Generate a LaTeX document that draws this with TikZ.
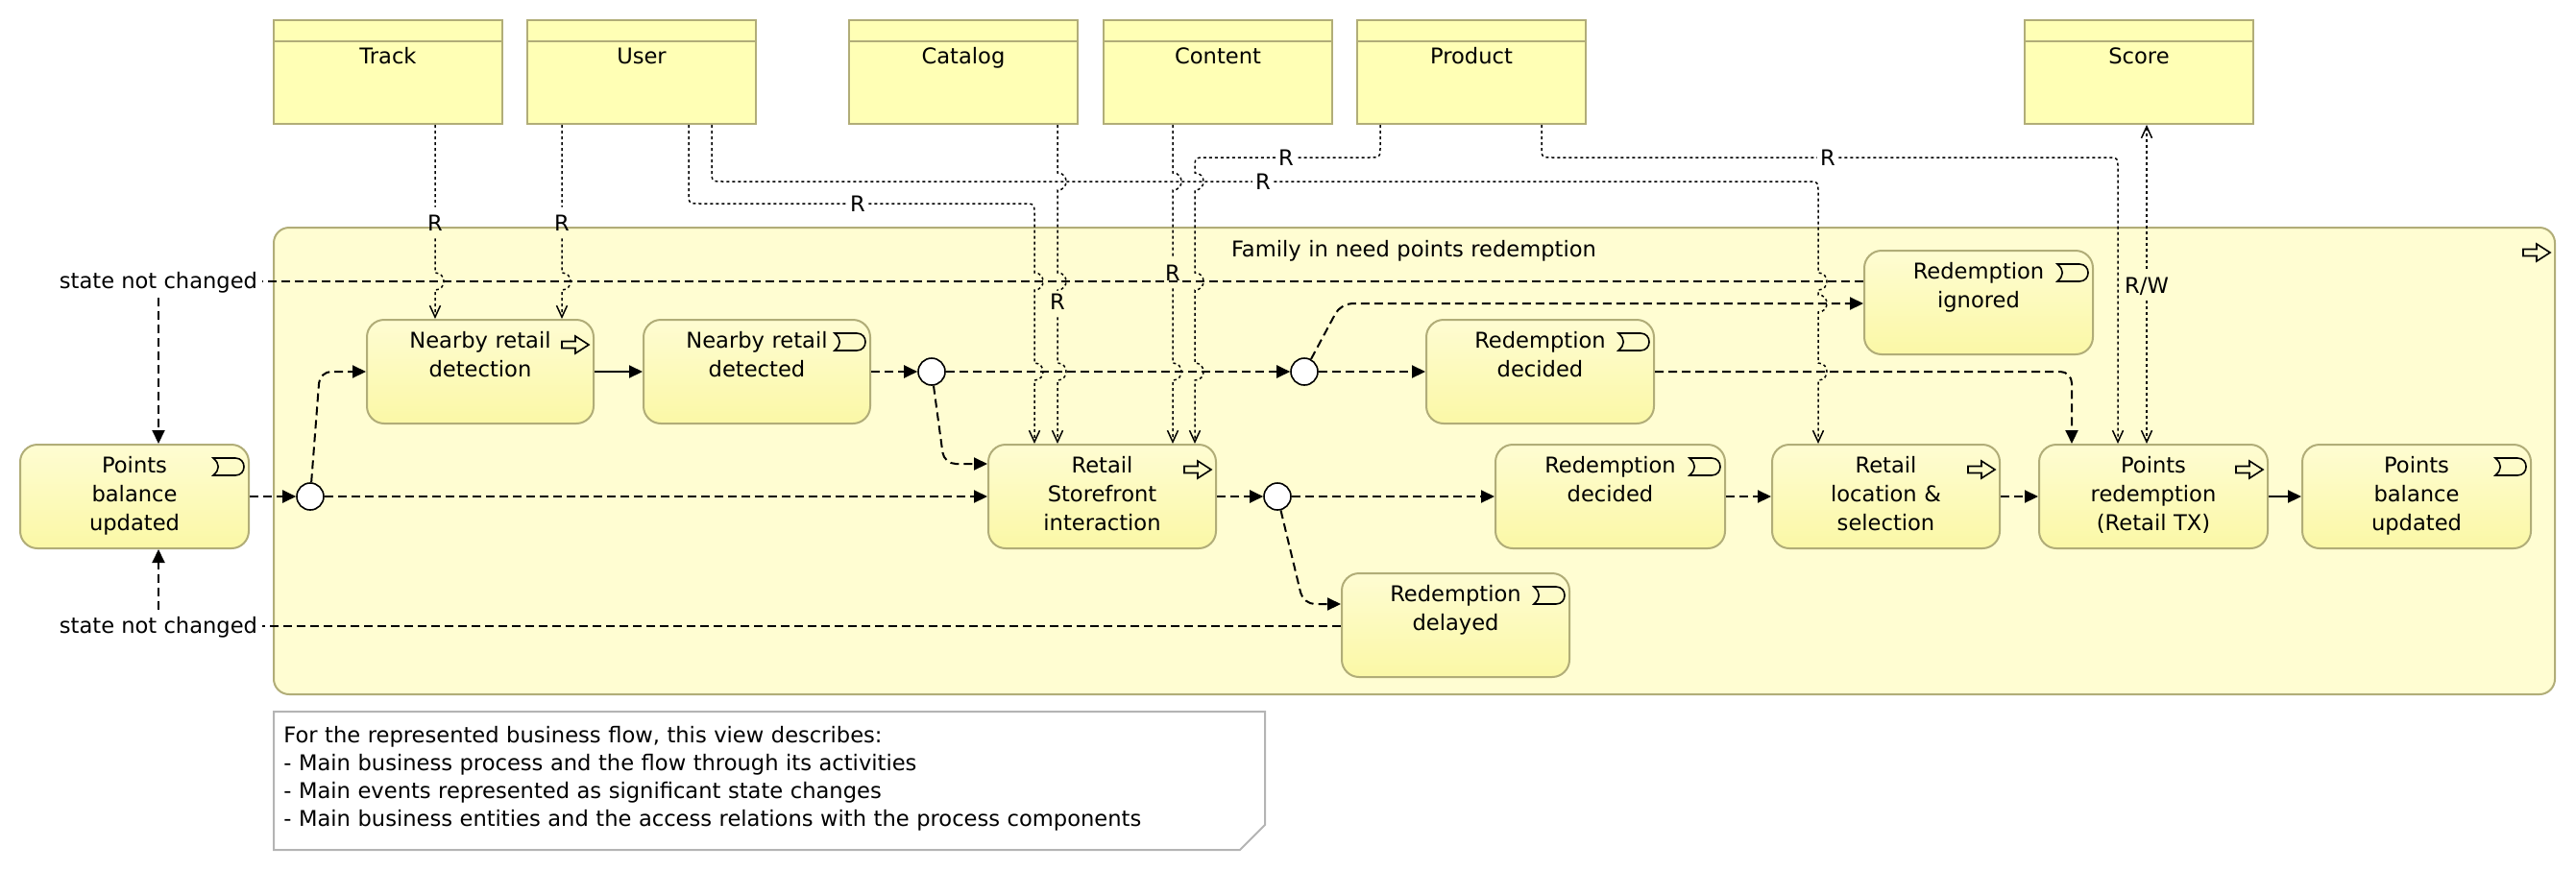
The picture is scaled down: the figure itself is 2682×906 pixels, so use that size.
\documentclass[tikz,border=0pt]{standalone}
\usepackage{fontspec}
\setmainfont{DejaVu Sans}
\usetikzlibrary{arrows.meta,calc,fit}
\definecolor{grpfill}{HTML}{FFFDD2}
\definecolor{grpline}{HTML}{B1AD78}
\definecolor{boxtop}{HTML}{FEFCD2}
\definecolor{boxbot}{HTML}{FBF8A6}
\definecolor{entfill}{HTML}{FFFFB5}
\definecolor{noteline}{HTML}{B4B4B4}

\newcommand\hopv[2]{-- (#1,#2-9) .. controls (#1+12,#2-9) and (#1+12,#2+9) .. (#1,#2+9)}
\newcommand\evicon[1]{\begin{scope}[shift={(#1.north east)}]
  \draw[icon] (-38,15) -- (-15,15) .. controls (-3,15) and (-3,33) .. (-15,33) -- (-38,33) .. controls (-31,27) and (-31,21) .. (-38,15) -- cycle;
  \end{scope}}
\newcommand\procicon[1]{\begin{scope}[shift={(#1.north east)}]
  \draw[icon] (-34,23.5) -- (-20,23.5) -- (-20,18) -- (-6,27) -- (-20,36) -- (-20,30.5) -- (-34,30.5) -- cycle;
  \end{scope}}
\newcommand\mkelem[7]{\node[#1, fit={(#3,#4) (#5,#6)}] (#2) {};
  \node[etext] (#2-t) at ($(#2.north)+(0,30)$) {#7};}
\newcommand\mkentity[4]{\node[ent, fit={(#2,21) (#3,129)}] (#1) {};
  \draw[grpline, line width=1pt] ($(#1.north west)+(0,23)$) -- ($(#1.north east)+(0,23)$);
  \node[etext] (#1-t) at ($(#1.north)+(0,46)$) {#4};}

\begin{document}
\begin{tikzpicture}[x=0.5pt, y=-0.5pt, font=\fontsize{11.3pt}{15pt}\selectfont,
  grp/.style={draw=grpline, fill=grpfill, line width=1pt, rounded corners=8pt, inner sep=0pt},
  evbox/.style={draw=grpline, top color=boxtop, bottom color=boxbot, line width=1pt, rounded corners=9pt, inner sep=0pt},
  prbox/.style={evbox},
  ent/.style={draw=grpline, fill=entfill, line width=1pt, inner sep=0pt},
  etext/.style={anchor=base, align=center, text width=112pt, inner sep=0pt},
  junc/.style={circle, draw, fill=white, line width=0.8pt, minimum size=14pt, inner sep=0pt},
  flow/.style={line width=1pt, dash pattern=on 4.5pt off 2.5pt, -{Triangle[length=7pt,width=6.5pt]}},
  trig/.style={line width=1pt, -{Triangle[length=7pt,width=6.5pt]}},
  acc/.style={line width=0.75pt, dash pattern=on 1.5pt off 1.5pt, -{Straight Barb[length=6pt,width=5.5pt]}},
  lbl/.style={inner xsep=1.5pt, inner ysep=1pt, text height=11pt, text depth=3pt},
  icon/.style={draw=black, line width=0.8pt, fill=none},
  note/.style={draw=noteline, fill=white, line width=1pt}]
\useasboundingbox (0,0) rectangle (2682,906);

% group
\node[grp, fit={(285,237) (2660,723)}] (grp) {};
\node[etext, text width=300pt] (grp-t) at (1472,267) {Family in need points redemption};
\procicon{grp}

% note
\draw[note] (285,741) -- (1317,741) -- (1317,859) -- (1291,885) -- (285,885) -- cycle;
\node[anchor=base west, align=left, text width=600pt, inner sep=0pt, font=\fontsize{11.3pt}{14.5pt}\selectfont] (notetxt) at (295,773)
  {For the represented business flow, this view describes:\\- Main business process and the flow through its activities\\- Main events represented as significant state changes\\- Main business entities and the access relations with the process components};

% entities
\mkentity{track}{285}{523}{Track}
\mkentity{user}{549}{787}{User}
\mkentity{cat}{884}{1122}{Catalog}
\mkentity{con}{1149}{1387}{Content}
\mkentity{prod}{1413}{1651}{Product}
\mkentity{score}{2108}{2346}{Score}

% elements
\mkelem{evbox}{pbu1}{21}{463}{259}{571}{Points\\balance\\updated}
\mkelem{prbox}{nrdet}{382}{333}{618}{441}{Nearby retail\\detection}
\mkelem{evbox}{nrd}{670}{333}{906}{441}{Nearby retail\\detected}
\mkelem{evbox}{rdec1}{1485}{333}{1722}{441}{Redemption\\decided}
\mkelem{evbox}{rign}{1941}{261}{2179}{369}{Redemption\\ignored}
\mkelem{prbox}{rsi}{1029}{463}{1266}{571}{Retail\\Storefront\\interaction}
\mkelem{evbox}{rdec2}{1557}{463}{1796}{571}{Redemption\\decided}
\mkelem{prbox}{rls}{1845}{463}{2082}{571}{Retail\\location \&\\selection}
\mkelem{prbox}{prt}{2123}{463}{2361}{571}{Points\\redemption\\(Retail TX)}
\mkelem{evbox}{pbu2}{2397}{463}{2635}{571}{Points\\balance\\updated}
\mkelem{evbox}{rdel}{1397}{597}{1634}{705}{Redemption\\delayed}
\evicon{pbu1}\evicon{nrd}\evicon{rdec1}\evicon{rign}\evicon{rdec2}\evicon{pbu2}\evicon{rdel}
\procicon{nrdet}\procicon{rsi}\procicon{rls}\procicon{prt}

% labels
\node[lbl] (lT) at (453,232) {R};
\node[lbl] (lU1) at (585,232) {R};
\node[lbl] (lU2) at (893,212) {R};
\node[lbl] (lU3) at (1315,189) {R};
\node[lbl, text height=9pt] (lCa) at (1101,316) {R};
\node[lbl] (lCo) at (1221,284) {R};
\node[lbl] (lP1) at (1339,164) {R};
\node[lbl] (lP2) at (1903,164) {R};
\node[lbl, text depth=4pt, inner xsep=2.5pt] (sn1) at (165,293) {state not changed};
\node[lbl, text depth=4pt, inner xsep=2.5pt] (sn2) at (165,652) {state not changed};

% corner coordinates
\coordinate (c1) at (717,212); \coordinate (c2) at (1077,212);
\coordinate (d1) at (741,189); \coordinate (d2) at (1893,189);
\coordinate (e1) at (1437,164); \coordinate (e2) at (1244,164);
\coordinate (f1) at (1605,164); \coordinate (f2) at (2205,164);
\coordinate (g1) at (2235,297);
\coordinate (b1) at (333,387); \coordinate (b2) at (983,483);
\coordinate (b3) at (1396,316); \coordinate (b4) at (1357,629);
\coordinate (b5) at (2157,387);

% access relations
\draw[acc] (track.south -| lT) -- (lT) \hopv{453}{293} -- (lT |- nrdet.north);
\draw[acc] (user.south -| lU1) -- (lU1) \hopv{585}{293} -- (lU1 |- nrdet.north);
\draw[acc] (user.south -| c1) -- (717,200) .. controls (c1) .. (729,212) -- (lU2) -- (1065,212) .. controls (c2) .. (1077,224) \hopv{1077}{293} \hopv{1077}{387} -- (c2 |- rsi.north);
\draw[acc] (user.south -| d1) -- (741,177) .. controls (d1) .. (753,189) -- (lU3) -- (1881,189) .. controls (d2) .. (1893,201) \hopv{1893}{293} \hopv{1893}{316} \hopv{1893}{387} -- (d2 |- rls.north);
\draw[acc] (cat.south -| lCa) \hopv{1101}{189} \hopv{1101}{293} -- (lCa) \hopv{1101}{387} -- (lCa |- rsi.north);
\draw[acc] (con.south -| lCo) \hopv{1221}{189} -- (lCo) \hopv{1221}{387} -- (lCo |- rsi.north);
\draw[acc] (prod.south -| e1) -- (1437,152) .. controls (e1) .. (1425,164) -- (lP1) -- (1256,164) .. controls (e2) .. (1244,176) \hopv{1244}{189} \hopv{1244}{293} \hopv{1244}{387} -- (e2 |- rsi.north);
\draw[acc] (prod.south -| f1) -- (1605,152) .. controls (f1) .. (1617,164) -- (lP2) -- (2193,164) .. controls (f2) .. (2205,176) -- (f2 |- prt.north);
\draw[acc, {Straight Barb[length=6pt,width=5.5pt]}-{Straight Barb[length=6pt,width=5.5pt]}] (g1 |- score.south) -- (g1 |- prt.north);
\node[lbl, fill=grpfill] (lRW) at (g1) {R/W};

% junctions
\node[junc] (j1) at (323,517) {};
\node[junc] (j2) at (970,387) {};
\node[junc] (j3) at (1358,387) {};
\node[junc] (j4) at (1330,517) {};

% flows and triggers
\draw[flow] (pbu1.east) -- (j1);
\draw[flow, rounded corners=6pt] (j1) -- (b1) -- (nrdet.west);
\draw[flow] (j1) -- (j1 -| rsi.west);
\draw[trig] (nrdet) -- (nrd);
\draw[flow] (nrd) -- (j2);
\draw[flow] (j2) -- (j3);
\draw[flow, rounded corners=6pt] (j2) -- (b2) -- (b2 -| rsi.west);
\draw[flow] (j3) -- (rdec1);
\draw[flow, rounded corners=6pt] (j3) -- (b3) -- (b3 -| rign.west);
\draw[flow, rounded corners=6pt] (rdec1) -- (b5) -- (b5 |- prt.north);
\draw[flow] (rsi) -- (j4);
\draw[flow] (j4) -- (rdec2);
\draw[flow, rounded corners=6pt] (j4) -- (b4) -- (b4 -| rdel.west);
\draw[flow] (rdec2) -- (rls);
\draw[flow] (rls) -- (prt);
\draw[trig] (prt) -- (pbu2);
\draw[flow] (rign.west |- sn1) -- (sn1) -- (sn1 |- pbu1.north);
\draw[flow] (rdel.west |- sn2) -- (sn2) -- (sn2 |- pbu1.south);
\end{tikzpicture}
\end{document}
